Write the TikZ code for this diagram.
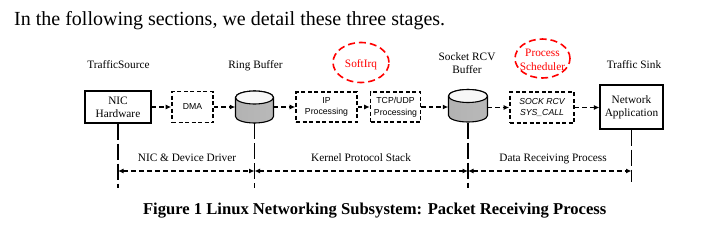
\documentclass[tikz,border=0pt]{standalone}
\usepackage{fontspec}
\setmainfont{Liberation Serif}
\setsansfont{Liberation Sans}
\usetikzlibrary{arrows.meta}
\begin{document}
\begin{tikzpicture}[x=1pt,y=-1pt,
  lbl/.style={font=\fontsize{11.3}{13}\selectfont, align=center, inner sep=0pt},
  redlbl/.style={lbl, text=red},
  sbox/.style={draw, line width=1.1pt, fill=white, inner sep=0pt, font=\fontsize{11.3}{12.7}\selectfont, align=center},
  dbox/.style={draw, line width=1.6pt, dash pattern=on 4pt off 2.5pt, inner sep=0pt, font=\fontsize{8.7}{11.7}\sffamily, align=center},
  flow/.style={line width=1.6pt, dash pattern=on 4.5pt off 3pt, -{Latex[length=5.5pt,width=5pt]}},
  dim/.style={line width=1.6pt, dash pattern=on 5pt off 3pt, {Latex[length=5.5pt,width=5pt]}-{Latex[length=5.5pt,width=5pt]}},
  vl/.style={line width=1.8pt, dash pattern=on 16pt off 4pt},
  redell/.style={draw=red, line width=1.6pt, dash pattern=on 7pt off 4pt},
  cylbody/.style={draw, line width=1.1pt, left color=gray!60, middle color=white, right color=gray!55},
  cyltop/.style={draw, line width=1.1pt, fill=gray!6}
]
\useasboundingbox (0,0) rectangle (723,225);

% intro sentence
\node[anchor=base west, inner sep=0pt, font=\fontsize{20}{24}\selectfont] (intro) at (14,25) {In the following sections, we detail these three stages.};

% top labels
\node[lbl, anchor=base] (lsrc) at (118.5,68.3) {TrafficSource};
\node[lbl, anchor=base] (lring) at (255.5,68.3) {Ring Buffer};
\node[lbl, anchor=base] (lsock1) at (467,60.3) {Socket RCV};
\node[lbl, anchor=base] (lsock2) at (467,73.5) {Buffer};
\node[lbl, anchor=base] (lsink) at (634,68.3) {Traffic Sink};

% red ellipses
\draw[redell] (361,62.5) ellipse [x radius=28pt, y radius=20pt];
\node[redlbl, anchor=base] (softirq) at (361,67.3) {SoftIrq};
\draw[redell] (542.5,58.5) ellipse [x radius=27.5pt, y radius=19.5pt];
\node[redlbl, anchor=base] (ps1) at (542.5,56.7) {Process};
\node[redlbl, anchor=base] (ps2) at (542.5,70) {Scheduler};

% boxes
\node[sbox, minimum width=66pt, minimum height=32pt] (nic) at (118,107) {NIC\\Hardware};
\node[dbox, minimum width=41pt, minimum height=31pt] (dma) at (192.5,107) {DMA};
\node[minimum width=38pt, minimum height=32pt, inner sep=0pt] (ring) at (254.5,107) {};
\node[dbox, minimum width=61pt, minimum height=30pt] (ip) at (326.5,107) {IP\\Processing};
\node[dbox, minimum width=50pt, minimum height=30pt] (tcp) at (395.5,107) {TCP/UDP\\Processing};
\node[minimum width=39pt, minimum height=33pt, inner sep=0pt] (sock) at (468,106) {};
\node[dbox, minimum width=64pt, minimum height=31pt, font=\fontsize{8.7}{11.7}\sffamily\itshape] (sys) at (542,107.5) {SOCK RCV\\SYS\_CALL};
\node[sbox, minimum width=63pt, minimum height=44pt] (app) at (631.5,107) {Network\\Application};

% cylinders
\path[cylbody] (235.5,97.5) -- (235.5,116.5) arc[start angle=180, end angle=360, x radius=19pt, y radius=6.5pt] -- (273.5,97.5) arc[start angle=0, end angle=180, x radius=19pt, y radius=6.5pt] -- cycle;
\path[cyltop] (254.5,97.5) ellipse [x radius=19pt, y radius=6.5pt];
\path[cylbody] (448.5,96) -- (448.5,115.5) arc[start angle=180, end angle=360, x radius=19.5pt, y radius=6.5pt] -- (487.5,96) arc[start angle=0, end angle=180, x radius=19.5pt, y radius=6.5pt] -- cycle;
\path[cyltop] (468,96) ellipse [x radius=19.5pt, y radius=6.5pt];

% flow arrows
\draw[flow] (nic.east) -- (dma.west);
\draw[flow] (dma.east) -- (ring.west);
\draw[flow] (ring.east) -- (ip.west);
\draw[flow] (ip.east) -- (tcp.west);
\draw[flow] (tcp.east) -- (sock.west |- tcp.east);
\draw[flow] (sock.east |- sys.west) -- (sys.west);
\draw[flow] (sys.east) -- (app.west |- sys.east);

% vertical separators
\coordinate (v1) at (118,188);
\coordinate (v2) at (254.5,188);
\coordinate (v3) at (468,188);
\coordinate (v4) at (631.5,182);
\draw[vl] (nic.south) -- (v1);
\draw[vl] (ring.south) -- (v2);
\draw[vl] (sock.south) -- (v3);
\draw[vl] (app.south) -- (v4);

% dimension arrows
\coordinate (d1) at (118,171);
\coordinate (d2) at (254.5,171);
\coordinate (d3) at (468,171);
\coordinate (d4) at (631.5,171);
\draw[dim] (d1) -- (d2);
\draw[dim] (d2) -- (d3);
\draw[dim] (d3) -- (d4);

\node[lbl, anchor=base] (s1) at (187,161.7) {NIC \& Device Driver};
\node[lbl, anchor=base] (s2) at (361,161.7) {Kernel Protocol Stack};
\node[lbl, anchor=base] (s3) at (553,161.7) {Data Receiving Process};

% caption
\node[anchor=base, inner sep=0pt, font=\fontsize{16.6}{20}\selectfont\bfseries] (cap) at (374.7,214) {Figure 1 Linux Networking Subsystem: Packet Receiving Process};
\end{tikzpicture}
\end{document}
